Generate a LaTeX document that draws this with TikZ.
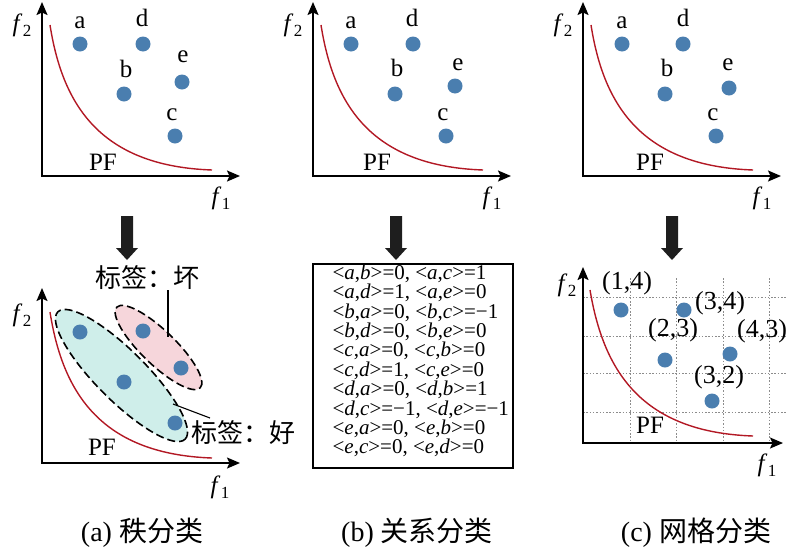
\documentclass[tikz,border=0pt]{standalone}
\usepackage{fontspec}
\setmainfont{Liberation Serif}
\newfontfamily\cjk{Noto Sans CJK SC}
\usetikzlibrary{arrows.meta,calc}
\definecolor{dotblue}{RGB}{74,126,175}
\definecolor{pfred}{RGB}{178,24,36}
\definecolor{pinkfill}{RGB}{246,214,219}
\definecolor{cyanfill}{RGB}{207,238,234}
\definecolor{arrowblack}{RGB}{30,30,30}
\definecolor{gridgray}{RGB}{140,140,140}
\newcommand{\fl}[1]{\textit{f}\kern0.5pt\raisebox{-0.45ex}{\fontsize{17}{17}\selectfont #1}}
\newcommand{\pr}[2]{<\textit{#1},\textit{#2}>}
\tikzset{
  axisline/.style={line width=1.7pt, line join=miter, {Stealth[length=13pt,width=11pt,inset=2.5pt]}-{Stealth[length=13pt,width=11pt,inset=2.5pt]}},
  pfcurve/.style={pfred, line width=1.4pt},
  dot/.style={circle, fill=dotblue, draw=none, inner sep=0pt, minimum size=15pt},
  lbl/.style={inner sep=0pt, font=\fontsize{25}{25}\selectfont},
  coordlbl/.style={inner sep=0pt, font=\fontsize{26}{26}\selectfont},
  pflbl/.style={inner sep=0pt, font=\fontsize{25}{25}\selectfont},
  axlbl/.style={inner sep=0pt, font=\fontsize{25}{25}\selectfont},
  cjklbl/.style={inner sep=0pt, font=\fontsize{26}{26}\selectfont\cjk},
  caption/.style={inner sep=0pt, font=\fontsize{28}{28}\selectfont},
  groupell/.style={dash pattern=on 8pt off 4pt, line width=1.6pt, black},
  gridline/.style={gridgray, line width=1pt, dash pattern=on 1.5pt off 1.8pt},
  downarrow/.pic={\fill[arrowblack] (-6,0) -- (6,0) -- (6,32) -- (11,32) -- (0,44) -- (-11,32) -- (-6,32) -- cycle;}
}
\begin{document}
\begin{tikzpicture}[x=1pt,y=-1pt]
\useasboundingbox (0,0) rectangle (800,552);

% ---------- top-left panel ----------
\begin{scope}[shift={(42,176)}]
  \draw[axisline] (0,-174) -- (0,0) -- (198,0);
  \draw[pfcurve] (8,-151) .. controls (20,-75) and (55,-10) .. (170,-6);
  \node[dot] (A-a) at (38,-132) {};
  \node[dot] (A-d) at (101,-132) {};
  \node[dot] (A-e) at (140,-94) {};
  \node[dot] (A-b) at (82,-82) {};
  \node[dot] (A-c) at (133,-40) {};
  \node[lbl] (A-la) at (38,-153) {a};
  \node[lbl] (A-ld) at (100,-158) {d};
  \node[lbl] (A-le) at (141,-119) {e};
  \node[lbl] (A-lb) at (84,-107) {b};
  \node[lbl] (A-lc) at (130,-61) {c};
  \node[pflbl] (A-pf) at (61,-14) {PF};
  \node[axlbl] (A-f2) at (-20,-151) {\fl{2}};
  \node[axlbl] (A-f1) at (179,22) {\fl{1}};
\end{scope}

% ---------- top-middle panel ----------
\begin{scope}[shift={(313,176)}]
  \draw[axisline] (0,-174) -- (0,0) -- (198,0);
  \draw[pfcurve] (8,-151) .. controls (20,-75) and (55,-10) .. (170,-6);
  \node[dot] (B-a) at (38,-132) {};
  \node[dot] (B-d) at (100,-132) {};
  \node[dot] (B-e) at (142,-90) {};
  \node[dot] (B-b) at (82,-82) {};
  \node[dot] (B-c) at (133,-40) {};
  \node[lbl] (B-la) at (38,-153) {a};
  \node[lbl] (B-ld) at (99,-158) {d};
  \node[lbl] (B-le) at (145,-111) {e};
  \node[lbl] (B-lb) at (84,-108) {b};
  \node[lbl] (B-lc) at (130,-61) {c};
  \node[pflbl] (B-pf) at (64,-14) {PF};
  \node[axlbl] (B-f2) at (-20,-151) {\fl{2}};
  \node[axlbl] (B-f1) at (179,22) {\fl{1}};
\end{scope}

% ---------- top-right panel ----------
\begin{scope}[shift={(583,176)}]
  \draw[axisline] (0,-174) -- (0,0) -- (198,0);
  \draw[pfcurve] (8,-151) .. controls (20,-75) and (55,-10) .. (170,-6);
  \node[dot] (C-a) at (39,-132) {};
  \node[dot] (C-d) at (100,-132) {};
  \node[dot] (C-e) at (146,-88) {};
  \node[dot] (C-b) at (82,-82) {};
  \node[dot] (C-c) at (133,-40) {};
  \node[lbl] (C-la) at (39,-153) {a};
  \node[lbl] (C-ld) at (100,-158) {d};
  \node[lbl] (C-le) at (145,-111) {e};
  \node[lbl] (C-lb) at (84,-108) {b};
  \node[lbl] (C-lc) at (130,-61) {c};
  \node[pflbl] (C-pf) at (67,-14) {PF};
  \node[axlbl] (C-f2) at (-20,-151) {\fl{2}};
  \node[axlbl] (C-f1) at (179,22) {\fl{1}};
\end{scope}

% ---------- big arrows ----------
\pic at (127,216) {downarrow};
\pic at (396,216) {downarrow};
\pic at (672,216) {downarrow};

% ---------- bottom-left panel (rank) ----------
\fill[cyanfill, rotate around={-45:(121.5,375.5)}] (121.5,375.5) ellipse [x radius=90pt, y radius=25pt];
\draw[groupell, rotate around={-45:(121.5,375.5)}] (121.5,375.5) ellipse [x radius=90pt, y radius=25pt];
\fill[pinkfill, rotate around={-44:(158.5,347.5)}] (158.5,347.5) ellipse [x radius=58pt, y radius=17pt];
\draw[groupell, rotate around={-44:(158.5,347.5)}] (158.5,347.5) ellipse [x radius=58pt, y radius=17pt];
\begin{scope}[shift={(42,463)}]
  \draw[axisline] (0,-175) -- (0,0) -- (198,0);
  \draw[pfcurve] (8,-151) .. controls (20,-75) and (55,-9) .. (170,-5);
  \node[dot] (D-a) at (38,-131) {};
  \node[dot] (D-d) at (101,-132) {};
  \node[dot] (D-e) at (139,-95) {};
  \node[dot] (D-b) at (82,-81) {};
  \node[dot] (D-c) at (133,-40) {};
  \node[pflbl] (D-pf) at (60,-16) {PF};
  \node[axlbl] (D-f2) at (-20,-148) {\fl{2}};
  \node[axlbl] (D-f1) at (178,24) {\fl{1}};
\end{scope}
\node[cjklbl] (bad) at (147,278) {标签：坏};
\node[cjklbl] (good) at (243,433) {标签：好};
\coordinate (badend) at (168,337);
\coordinate (goodstart) at (173,404);
\coordinate (goodend) at (210,418);
\draw[line width=1.1pt] (bad.south -| badend) -- (badend);
\draw[line width=1.1pt] (goodstart) -- (goodend);

% ---------- bottom-middle panel (relation) ----------
\node[draw, line width=1.2pt, inner sep=0pt, minimum width=200pt, minimum height=204pt] (rel) at (413,366) {};
\node[anchor=west, align=left, inner sep=0pt, font=\fontsize{21}{19.4}\selectfont] (reltext) at ([xshift=20pt,yshift=5pt]rel.west) {%
\pr{a}{b}=0, \pr{a}{c}=1\\
\pr{a}{d}=1, \pr{a}{e}=0\\
\pr{b}{a}=0, \pr{b}{c}=−1\\
\pr{b}{d}=0, \pr{b}{e}=0\\
\pr{c}{a}=0, \pr{c}{b}=0\\
\pr{c}{d}=1, \pr{c}{e}=0\\
\pr{d}{a}=0, \pr{d}{b}=1\\
\pr{d}{c}=−1, \pr{d}{e}=−1\\
\pr{e}{a}=0, \pr{e}{b}=0\\
\pr{e}{c}=0, \pr{e}{d}=0};

% ---------- bottom-right panel (grid) ----------
\begin{scope}[shift={(583,443)}]
  \foreach \gx in {47,93,140,186} \draw[gridline] (\gx,-165) -- (\gx,0);
  \foreach \gy in {-146,-107,-70,-31} \draw[gridline] (0,\gy) -- (204,\gy);
  \draw[axisline] (0,-176) -- (0,0) -- (200,0);
  \draw[pfcurve] (7,-153) .. controls (20,-76) and (55,-11) .. (170,-7);
  \node[dot] (E-14) at (38,-133) {};
  \node[dot] (E-34) at (101,-133) {};
  \node[dot] (E-23) at (82,-83) {};
  \node[dot] (E-43) at (147,-89) {};
  \node[dot] (E-32) at (129,-42) {};
  \node[coordlbl] (E-l14) at (44,-160) {(1,4)};
  \node[coordlbl] (E-l34) at (137,-140) {(3,4)};
  \node[coordlbl] (E-l23) at (90,-113) {(2,3)};
  \node[coordlbl] (E-l43) at (179,-112) {(4,3)};
  \node[coordlbl] (E-l32) at (136,-66) {(3,2)};
  \node[pflbl] (E-pf) at (67,-18) {PF};
  \node[axlbl] (E-f2) at (-16,-158) {\fl{2}};
  \node[axlbl] (E-f1) at (184,22) {\fl{1}};
\end{scope}

% ---------- captions ----------
\node[caption] (capa) at (142,533) {(a) {\cjk 秩分类}};
\node[caption] (capb) at (417,533) {(b) {\cjk 关系分类}};
\node[caption] (capc) at (696,533) {(c) {\cjk 网格分类}};
\end{tikzpicture}
\end{document}
